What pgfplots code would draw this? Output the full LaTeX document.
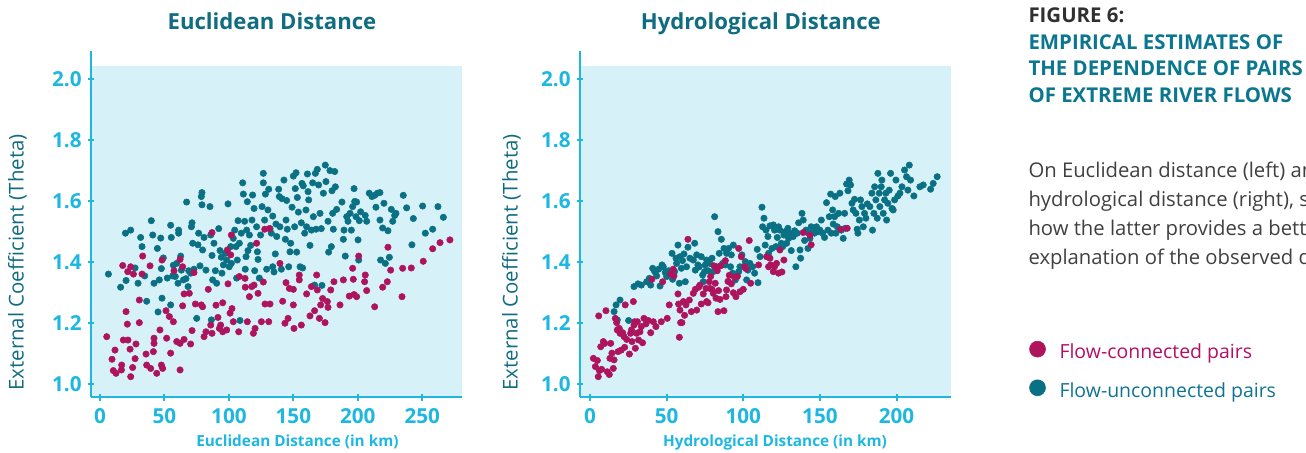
\documentclass[border=0pt]{standalone}
\usepackage{fontspec}
\setmainfont{Open Sans}
\usepackage{pgfplots}
\pgfplotsset{compat=1.18}

\definecolor{bgc}{RGB}{214,241,247}
\definecolor{axc}{RGB}{29,183,224}
\definecolor{ttl}{RGB}{16,108,128}
\definecolor{tealp}{RGB}{10,112,132}
\definecolor{magp}{RGB}{174,20,94}
\definecolor{figgray}{RGB}{48,48,48}
\definecolor{headteal}{RGB}{10,118,143}
\definecolor{bodygray}{RGB}{64,64,64}
\definecolor{legmag}{RGB}{178,14,104}
\definecolor{legteal}{RGB}{14,116,146}

\pgfplotsset{
  riverax/.style={
    scale only axis, width=278pt, height=259.7pt,
    anchor=south west,
    axis lines=left,
    axis line style={axc, line width=1.5pt, -},
    axis on top,
    ymin=0.9574, ymax=2.0917,
    ytick={1,1.2,1.4,1.6,1.8,2},
    yticklabel style={xshift=-1pt, /pgf/number format/.cd, fixed, fixed zerofill, precision=1},
    tick style={axc, line width=1.5pt},
    major tick length=5pt,
    tick align=center,
    xticklabel style={yshift=-2.5pt},
    ticklabel style={font=\fontsize{15.5}{18}\selectfont\bfseries, text=axc},
    /pgf/number format/assume math mode=true,
    clip=false,
  },
  tealdots/.style={only marks, mark=*, mark size=2.4pt, color=tealp,
    mark options={fill=tealp, draw=tealp, line width=0.4pt}},
  magdots/.style={only marks, mark=*, mark size=2.4pt, color=magp,
    mark options={fill=magp, draw=magp, line width=0.4pt}},
}

\begin{document}
\begin{tikzpicture}
\useasboundingbox (0pt,0pt) rectangle (979.5pt,339.75pt);

% ---------------- Euclidean distance ----------------
\begin{axis}[riverax, at={(68.25pt,41.775pt)},
  xmin=-7, xmax=280.6,
  xtick={0,50,100,150,200,250}]
  \fill[bgc] (rel axis cs:0,0) rectangle (rel axis cs:1,0.9567);
  % flow-unconnected pairs
  \addplot[tealdots] coordinates {
    (6.5,1.361) (16.0,1.318) (20.2,1.340) (19.7,1.495) (23.8,1.505) (27.2,1.381)
    (29.5,1.331) (31.5,1.481) (32.6,1.451) (34.7,1.355) (36.2,1.272) (39.8,1.536)
    (40.9,1.489) (41.9,1.331) (44.5,1.445) (45.0,1.237) (46.0,1.342) (47.1,1.479)
    (47.6,1.379) (48.1,1.282) (49.1,1.414) (52.2,1.348) (54.8,1.521) (54.8,1.260)
    (55.3,1.481) (56.4,1.355) (56.9,1.390) (58.4,1.353) (59.5,1.396) (60.5,1.331)
    (61.0,1.495) (61.0,1.505) (62.6,1.420) (63.1,1.374) (64.7,1.342) (66.7,1.346)
    (67.2,1.597) (68.3,1.320) (68.8,1.372) (70.3,1.364) (70.9,1.516) (71.4,1.529)
    (71.9,1.462) (72.9,1.377) (75.0,1.216) (76.0,1.457) (76.5,1.495) (77.6,1.388)
    (78.6,1.615) (79.1,1.628) (79.1,1.588) (79.6,1.440) (80.7,1.481) (82.2,1.374)
    (85.3,1.582) (85.9,1.489) (86.4,1.211) (86.9,1.422) (87.4,1.342) (88.4,1.462)
    (89.5,1.372) (90.5,1.331) (92.1,1.510) (93.1,1.438) (94.1,1.416) (94.6,1.364)
    (95.7,1.391) (97.2,1.429) (98.3,1.407) (99.3,1.591) (100.3,1.385) (101.4,1.451)
    (101.9,1.396) (103.4,1.478) (104.5,1.505) (105.5,1.451) (106.0,1.348) (106.5,1.407)
    (107.1,1.536) (108.1,1.462) (108.6,1.209) (109.6,1.495) (110.7,1.660) (111.2,1.623)
    (112.2,1.534) (112.7,1.377) (113.3,1.418) (113.8,1.505) (114.3,1.598) (114.8,1.438)
    (115.9,1.489) (116.9,1.455) (117.9,1.538) (118.4,1.620) (119.5,1.576) (120.0,1.372)
    (121.5,1.516) (122.1,1.434) (122.6,1.409) (123.6,1.348) (124.6,1.489) (125.7,1.582)
    (126.7,1.691) (126.7,1.660) (127.7,1.538) (128.3,1.623) (129.3,1.377) (130.3,1.571)
    (130.9,1.639) (131.9,1.510) (132.9,1.495) (134.0,1.385) (134.0,1.551) (135.0,1.368)
    (136.0,1.427) (136.5,1.525) (137.1,1.484) (138.6,1.639) (139.1,1.615) (139.6,1.516)
    (140.7,1.377) (141.2,1.608) (142.7,1.669) (143.8,1.475) (144.3,1.538) (144.8,1.602)
    (145.3,1.508) (146.4,1.385) (147.4,1.434) (147.9,1.462) (149.0,1.580) (150.0,1.682)
    (151.0,1.516) (151.5,1.641) (152.1,1.693) (152.6,1.433) (153.1,1.612) (153.9,1.564)
    (155.2,1.385) (156.2,1.529) (156.7,1.658) (157.2,1.381) (157.7,1.650) (158.8,1.495)
    (159.8,1.571) (160.3,1.516) (160.9,1.689) (161.4,1.631) (161.9,1.604) (162.9,1.455)
    (164.0,1.505) (165.0,1.660) (165.5,1.549) (166.5,1.325) (167.1,1.691) (167.6,1.508)
    (168.6,1.704) (169.6,1.653) (170.7,1.560) (171.7,1.510) (172.2,1.324) (173.3,1.626)
    (174.8,1.718) (175.3,1.664) (176.9,1.534) (177.4,1.433) (178.4,1.700) (179.5,1.451)
    (180.0,1.634) (180.5,1.560) (181.0,1.508) (182.1,1.697) (182.6,1.647) (183.6,1.573)
    (187.7,1.597) (188.8,1.475) (189.3,1.505) (190.3,1.420) (191.4,1.549) (192.4,1.534)
    (194.0,1.560) (195.0,1.505) (196.0,1.582) (197.1,1.641) (197.6,1.599) (198.6,1.549)
    (199.1,1.597) (200.2,1.473) (200.7,1.407) (201.2,1.536) (202.2,1.565) (205.8,1.553)
    (206.9,1.534) (208.9,1.626) (211.0,1.615) (213.1,1.619) (214.1,1.580) (215.2,1.626)
    (217.2,1.628) (217.2,1.538) (217.7,1.407) (219.3,1.512) (220.3,1.593) (221.4,1.396)
    (223.4,1.503) (224.5,1.416) (226.0,1.573) (227.1,1.534) (228.6,1.553) (229.6,1.560)
    (235.3,1.619) (237.9,1.578) (242.0,1.457) (243.1,1.543) (250.3,1.584) (252.4,1.495)
    (258.1,1.508) (262.2,1.582) (266.4,1.547)
  };
  % flow-connected pairs
  \addplot[magdots] coordinates {
    (5.2,1.156) (9.3,1.082) (11.6,1.112) (10.3,1.045) (12.4,1.036) (16.6,1.047)
    (16.8,1.063) (18.1,1.145) (21.7,1.145) (23.3,1.115) (23.8,1.025) (25.3,1.055)
    (27.2,1.084) (27.9,1.132) (35.7,1.099) (36.2,1.063) (39.3,1.052) (41.4,1.107)
    (41.9,1.134) (41.9,1.151) (44.0,1.036) (46.5,1.178) (47.6,1.063) (48.6,1.052)
    (51.7,1.151) (54.8,1.102) (56.9,1.205) (59.5,1.140) (62.1,1.047) (62.1,1.134)
    (65.2,1.147) (70.3,1.132) (71.4,1.176) (20.2,1.238) (21.2,1.197) (30.5,1.202)
    (30.5,1.276) (23.8,1.385) (21.5,1.369) (17.6,1.389) (25.9,1.361) (33.1,1.420)
    (32.6,1.361) (38.8,1.388) (48.1,1.407) (51.2,1.241) (53.8,1.222)
    (57.4,1.372) (62.1,1.409) (64.1,1.385) (64.1,1.257) (65.2,1.296) (69.3,1.298)
    (74.0,1.263) (72.9,1.366) (78.6,1.260) (79.6,1.254) (80.7,1.156) (82.2,1.172)
    (84.0,1.311) (85.9,1.194) (86.9,1.167) (86.9,1.497) (90.0,1.259) (91.5,1.219)
    (92.6,1.183) (93.6,1.194) (95.2,1.267) (95.2,1.172) (98.3,1.178) (98.8,1.440)
    (99.3,1.329) (101.4,1.424) (100.9,1.233) (102.4,1.248) (103.4,1.205) (101.9,1.489)
    (107.6,1.172) (108.1,1.353) (112.5,1.347) (112.7,1.318) (114.3,1.205) (115.9,1.287)
    (117.7,1.320) (119.0,1.167) (120.3,1.183) (119.5,1.325) (121.5,1.462) (122.6,1.298)
    (125.2,1.205) (126.7,1.335) (128.0,1.263) (127.8,1.508) (131.4,1.510) (130.9,1.205)
    (131.9,1.263) (139.6,1.396) (141.7,1.272) (143.5,1.200) (144.3,1.333) (145.9,1.216)
    (146.9,1.314) (150.0,1.311) (150.5,1.183) (150.0,1.260) (154.6,1.358) (154.6,1.342)
    (156.2,1.194) (160.3,1.296) (162.9,1.224) (164.0,1.320) (166.5,1.241) (168.1,1.358)
    (168.6,1.309) (170.2,1.216) (171.2,1.260) (172.7,1.281) (174.6,1.202) (176.4,1.271)
    (176.9,1.252) (179.0,1.309) (181.5,1.336) (186.2,1.260) (188.8,1.342) (193.4,1.289)
    (196.0,1.380) (196.5,1.344) (197.1,1.294) (199.1,1.287) (200.7,1.420) (205.3,1.336)
    (205.8,1.358) (206.9,1.307) (213.1,1.254) (219.3,1.318) (222.9,1.336) (223.4,1.449)
    (225.5,1.374) (234.3,1.287) (234.8,1.380) (241.5,1.381) (250.8,1.403) (258.1,1.444)
    (263.8,1.464) (271.5,1.473)
  };
\end{axis}

% ---------------- Hydrological distance ----------------
\begin{axis}[riverax, at={(435pt,41.775pt)},
  xmin=-6.52, xmax=235.3,
  xtick={0,50,100,150,200},
  reverse legend,
  legend image code/.code={\fill[#1] (0pt,2.5pt) circle (6pt);},
  legend style={at={(1.2120,0.1630)}, anchor=north west, draw=none, fill=none,
    inner sep=0pt, outer sep=0pt, row sep=14pt,
    nodes={inner sep=0pt}, cells={anchor=west},
    /tikz/every odd column/.append style={column sep=10.3pt},
    font=\fontsize{14.6}{17}\selectfont}]
  \fill[bgc] (rel axis cs:0,0) rectangle (rel axis cs:1,0.9567);
  \addplot[tealdots] coordinates {
    (15.7,1.238) (17.0,1.260) (19.6,1.276) (17.8,1.211) (25.2,1.209) (28.7,1.320)
    (31.3,1.329) (33.5,1.325) (37.0,1.336) (38.7,1.347) (39.6,1.325) (40.9,1.380)
    (42.2,1.369) (43.5,1.355) (44.8,1.377) (45.7,1.322) (47.0,1.391) (47.8,1.385)
    (49.1,1.366) (50.0,1.353) (51.3,1.372) (53.5,1.429) (53.9,1.344) (55.2,1.369)
    (56.1,1.413) (56.5,1.396) (57.4,1.456) (58.3,1.331) (58.7,1.418) (59.6,1.380)
    (60.4,1.405) (61.3,1.427) (62.2,1.336) (63.0,1.385) (63.9,1.449) (65.2,1.413)
    (67.4,1.407) (68.3,1.462) (68.7,1.374) (69.6,1.424) (70.4,1.391) (71.3,1.385)
    (72.6,1.418) (73.5,1.358) (73.9,1.336) (74.8,1.369) (75.2,1.391) (76.1,1.407)
    (77.0,1.372) (78.3,1.396) (79.6,1.413) (80.4,1.369) (81.3,1.549) (82.6,1.385)
    (83.5,1.500) (84.3,1.429) (85.7,1.475) (86.5,1.396) (87.4,1.445) (88.3,1.391)
    (89.1,1.429) (90.4,1.445) (91.7,1.385) (92.2,1.424) (93.0,1.364) (93.5,1.456)
    (94.8,1.342) (96.1,1.355) (97.0,1.369) (97.8,1.385) (99.1,1.424) (100.0,1.385)
    (101.3,1.402) (102.2,1.342) (103.0,1.374) (104.3,1.396) (106.1,1.385) (107.4,1.364)
    (109.1,1.442) (109.6,1.333) (110.9,1.418) (112.2,1.580) (112.6,1.516) (113.5,1.544)
    (114.3,1.456) (114.8,1.505) (116.1,1.484) (116.5,1.429) (117.4,1.519) (118.7,1.445)
    (119.6,1.522) (120.4,1.505) (121.3,1.451) (122.2,1.481) (123.0,1.516) (123.9,1.505)
    (124.8,1.462) (125.7,1.451) (126.5,1.489) (127.4,1.500) (128.3,1.462) (129.1,1.511)
    (129.6,1.478) (130.0,1.495) (131.3,1.438) (132.6,1.484) (133.5,1.503) (134.3,1.385)
    (135.2,1.495) (136.1,1.529) (137.0,1.440) (137.4,1.413) (138.3,1.560) (139.1,1.538)
    (140.0,1.471) (140.9,1.505) (142.2,1.445) (142.6,1.495) (143.5,1.478) (144.3,1.516)
    (145.7,1.505) (146.5,1.495) (147.8,1.516) (149.1,1.500) (150.0,1.505) (150.9,1.538)
    (151.7,1.495) (153.0,1.481) (154.3,1.595) (155.2,1.505) (156.1,1.549) (157.0,1.623)
    (157.4,1.495) (158.3,1.571) (158.7,1.525) (159.6,1.549) (160.0,1.615) (160.4,1.495)
    (161.3,1.516) (162.2,1.560) (163.0,1.626) (163.9,1.505) (165.2,1.478) (166.1,1.560)
    (166.5,1.511) (167.4,1.656) (168.3,1.634) (169.1,1.669) (170.0,1.653) (170.9,1.593)
    (171.7,1.571) (172.6,1.606) (173.5,1.560) (174.3,1.508) (174.8,1.495) (175.7,1.538)
    (176.5,1.604) (177.4,1.582) (178.3,1.516) (179.1,1.560) (180.0,1.544) (180.9,1.591)
    (182.6,1.582) (183.9,1.626) (184.3,1.505) (185.2,1.560) (185.7,1.647) (186.5,1.604)
    (187.4,1.544) (187.8,1.691) (188.7,1.626) (189.1,1.582) (190.0,1.647) (190.4,1.669)
    (191.3,1.560) (192.2,1.604) (193.0,1.626) (193.5,1.538) (194.3,1.593) (195.2,1.636)
    (196.1,1.691) (197.0,1.576) (197.8,1.571) (198.7,1.604) (199.6,1.669) (200.9,1.617)
    (202.2,1.626) (203.5,1.647) (205.2,1.702) (206.5,1.680) (207.4,1.636) (208.3,1.718)
    (209.1,1.669) (211.3,1.617) (215.2,1.647) (217.4,1.653) (222.2,1.639) (223.9,1.658)
    (226.5,1.680)
  };
  \addlegendentry{\textcolor{legteal}{Flow-unconnected pairs}}
  \addplot[magdots] coordinates {
    (2.2,1.085) (3.5,1.058) (4.8,1.078) (5.4,1.025) (5.7,1.224) (6.1,1.045)
    (7.0,1.123) (7.6,1.049) (8.7,1.140) (9.6,1.134) (10.4,1.241) (11.3,1.041)
    (12.6,1.032) (13.0,1.085) (13.5,1.134) (14.3,1.102) (15.2,1.052) (15.7,1.080)
    (16.5,1.216) (17.4,1.202) (17.8,1.178) (18.3,1.107) (19.1,1.183) (19.6,1.167)
    (20.4,1.112) (21.3,1.169) (22.2,1.156) (22.6,1.121) (23.0,1.260) (23.9,1.147)
    (25.7,1.099) (26.5,1.167) (27.0,1.178) (27.4,1.140) (28.3,1.271) (28.7,1.194)
    (29.1,1.205) (29.6,1.118) (30.4,1.167) (30.9,1.205) (31.7,1.145) (32.6,1.172)
    (33.5,1.189) (34.3,1.136) (35.2,1.216) (36.5,1.198) (38.0,1.209) (39.6,1.169)
    (40.4,1.344) (41.3,1.205) (43.0,1.189) (46.5,1.205) (47.4,1.336) (50.4,1.216)
    (51.7,1.260) (52.6,1.361) (54.3,1.377) (54.8,1.355) (57.4,1.296) (57.8,1.263)
    (58.3,1.154) (58.7,1.243) (59.1,1.202) (60.0,1.202) (60.9,1.271) (61.7,1.226)
    (62.6,1.260) (63.9,1.475) (64.8,1.276) (66.1,1.238) (67.4,1.298) (68.7,1.311)
    (69.6,1.243) (70.9,1.318) (71.7,1.325) (72.6,1.263) (73.9,1.296) (75.7,1.314)
    (76.1,1.271) (77.0,1.267) (77.8,1.336) (78.3,1.314) (78.7,1.353) (79.6,1.311)
    (80.4,1.298) (80.9,1.388) (81.7,1.331) (82.2,1.282) (83.0,1.372) (83.5,1.238)
    (83.9,1.307) (84.8,1.278) (85.2,1.388) (87.4,1.241) (88.3,1.405) (88.7,1.287)
    (89.1,1.309) (90.0,1.337) (90.9,1.357) (92.2,1.329) (93.5,1.300) (94.3,1.350)
    (95.2,1.287) (96.1,1.353) (97.0,1.445) (97.8,1.303) (98.7,1.418) (100.0,1.311)
    (100.9,1.385) (101.7,1.379) (103.9,1.471) (104.8,1.331) (110.0,1.391) (115.2,1.418)
    (116.5,1.385) (117.4,1.413) (117.8,1.391) (119.6,1.369) (120.4,1.385) (121.7,1.396)
    (123.0,1.364) (123.9,1.440) (125.2,1.368) (126.5,1.407) (139.1,1.497) (143.5,1.488)
    (144.3,1.457) (163.5,1.508) (167.8,1.511)
  };
  \addlegendentry{\textcolor{legmag}{Flow-connected pairs}}
\end{axis}

% ---------------- titles and labels ----------------
\node[anchor=base, inner sep=0pt, text=ttl, font=\fontsize{16.6}{19}\selectfont\bfseries]
  at (204pt,317.8pt) {Euclidean Distance};
\node[anchor=base, inner sep=0pt, text=ttl, font=\fontsize{16.6}{19}\selectfont\bfseries]
  at (570.6pt,317.8pt) {Hydrological Distance};
\node[rotate=90, inner sep=0pt, text=ttl, font=\fontsize{15.3}{18}\selectfont]
  at (13.1pt,142.9pt) {External Coefficient (Theta)};
\node[rotate=90, inner sep=0pt, text=ttl, font=\fontsize{15.3}{18}\selectfont]
  at (383.6pt,142.9pt) {External Coefficient (Theta)};
\node[anchor=base, inner sep=0pt, text=axc, font=\fontsize{11.5}{13}\selectfont\bfseries]
  at (223.1pt,4.5pt) {Euclidean Distance (in km)};
\node[anchor=base, inner sep=0pt, text=axc, font=\fontsize{11.5}{13}\selectfont\bfseries]
  at (581.25pt,4.5pt) {Hydrological Distance (in km)};

% ---------------- caption panel (cut at the right edge as in the original) ----------------
\begin{scope}
\clip (0pt,0pt) rectangle (979.5pt,339.75pt);
\begin{scope}[every node/.style={anchor=base west, inner sep=0pt}]
\node[text=figgray, font=\fontsize{15.3}{18}\selectfont\bfseries] at (771.2pt,322.7pt) {FIGURE 6:};
\node[text=headteal, font=\fontsize{15.3}{18}\selectfont\bfseries] at (771.2pt,302.8pt) {EMPIRICAL ESTIMATES OF};
\node[text=headteal, font=\fontsize{15.3}{18}\selectfont\bfseries] at (771.2pt,282.75pt) {THE DEPENDENCE OF PAIRS};
\node[text=headteal, font=\fontsize{15.3}{18}\selectfont\bfseries] at (771.2pt,262.7pt) {OF EXTREME RIVER FLOWS};
\node[text=bodygray, font=\fontsize{15.2}{18}\selectfont] at (771.2pt,206.25pt) {On Euclidean distance (left) and};
\node[text=bodygray, font=\fontsize{15.2}{18}\selectfont] at (771.2pt,184.7pt) {hydrological distance (right), showing};
\node[text=bodygray, font=\fontsize{15.2}{18}\selectfont] at (771.2pt,162.75pt) {how the latter provides a better};
\node[text=bodygray, font=\fontsize{15.2}{18}\selectfont] at (771.2pt,141pt) {explanation of the observed data.};
\end{scope}
\end{scope}
\end{tikzpicture}
\end{document}
